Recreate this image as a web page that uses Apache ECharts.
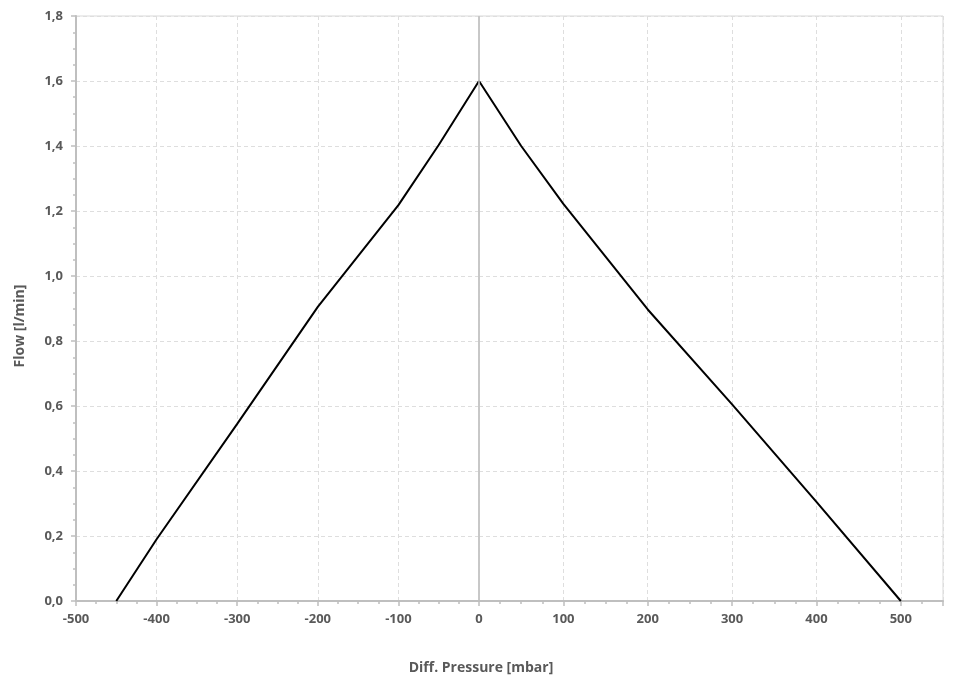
<!DOCTYPE html>
<html><head><meta charset="utf-8">
<script src="https://cdn.jsdelivr.net/npm/echarts@6/dist/echarts.min.js"></script>
<style>html,body{margin:0;padding:0;background:#fff}#c{width:960px;height:684px}</style>
</head><body><div id="c"></div>
<script>
const pressure = [-450, -400, -300, -200, -100, -50, 0, 50, 100, 200, 300, 400, 500];
const flow =     [0, 0.19, 0.545, 0.905, 1.218, 1.403, 1.6, 1.40, 1.222, 0.897, 0.605, 0.305, 0];
const xTitle = 'Diff. Pressure [mbar]';
const yTitle = 'Flow [l/min]';

const font = 'Open Sans, Liberation Sans, sans-serif';
const leftPts = [], rightPts = [];
pressure.forEach((p, i) => {
  if (p <= 0) leftPts.push([p, flow[i]]);
  if (p >= 0) rightPts.push([p, flow[i]]);
});

const axisGray = '#bfbfbf';
const splitStyle = {show: true, lineStyle: {color: '#dedede', type: [4, 3], width: 1}};
const labelStyle = {color: '#595959', fontFamily: font, fontWeight: 'bold', fontSize: 13};
function xAx(idx, min, max, extra) {
  return Object.assign({
    type: 'value', gridIndex: idx, min: min, max: max, interval: 100,
    axisLine: {show: true, onZero: false, lineStyle: {color: axisGray, width: 2}},
    axisTick: {show: true, length: 5, lineStyle: {color: axisGray, width: 1.5}},
    minorTick: {show: true, splitNumber: 4, length: 3, lineStyle: {color: axisGray, width: 1.5}},
    axisLabel: Object.assign({margin: 12}, labelStyle),
    splitLine: splitStyle
  }, extra);
}
function yAx(idx, showLeft) {
  return {
    type: 'value', gridIndex: idx, min: 0, max: 1.8, interval: 0.2,
    axisLine: {show: showLeft, onZero: false, lineStyle: {color: axisGray, width: 2}},
    axisTick: {show: showLeft, length: 5, lineStyle: {color: axisGray, width: 1.5}},
    minorTick: {show: showLeft, splitNumber: 4, length: 3, lineStyle: {color: axisGray, width: 1.5}},
    axisLabel: Object.assign({show: showLeft, margin: 13, formatter: v => v.toFixed(1).replace('.', ',')}, labelStyle),
    splitLine: splitStyle
  };
}

const chart = echarts.init(document.getElementById('c'));
chart.setOption({
  animation: false,
  grid: [
    {left: 76, width: 403, top: 16, bottom: 83, show: true, borderColor: '#d9d9d9', borderWidth: 1},
    {left: 479, right: 17, top: 16, bottom: 83, show: true, borderColor: '#d9d9d9', borderWidth: 1}
  ],
  xAxis: [
    xAx(0, -500, 0, {axisLabel: Object.assign({margin: 12, showMaxLabel: false}, labelStyle)}),
    xAx(1, 0, 550, {axisLabel: Object.assign({margin: 12, showMaxLabel: false}, labelStyle)})
  ],
  yAxis: [yAx(0, true), yAx(1, false)],
  graphic: [
    {type: 'text', x: 481, y: 668, style: {text: xTitle, fill: '#595959', font: 'bold 14px ' + font, textAlign: 'center', textVerticalAlign: 'middle'}},
    {type: 'text', x: 20, y: 326, rotation: Math.PI / 2, style: {text: yTitle, fill: '#595959', font: 'bold 14px ' + font, textAlign: 'center', textVerticalAlign: 'middle'}}
  ],
  series: [
    {type: 'line', xAxisIndex: 0, yAxisIndex: 0, data: leftPts, showSymbol: false, lineStyle: {color: '#000', width: 2}, z: 3},
    {type: 'line', xAxisIndex: 1, yAxisIndex: 1, data: rightPts, showSymbol: false, lineStyle: {color: '#000', width: 2}, z: 3,
     markLine: {silent: true, symbol: 'none', label: {show: false}, lineStyle: {color: axisGray, type: 'solid', width: 1.5}, data: [{xAxis: 0}]}}
  ]
});
</script></body></html>
